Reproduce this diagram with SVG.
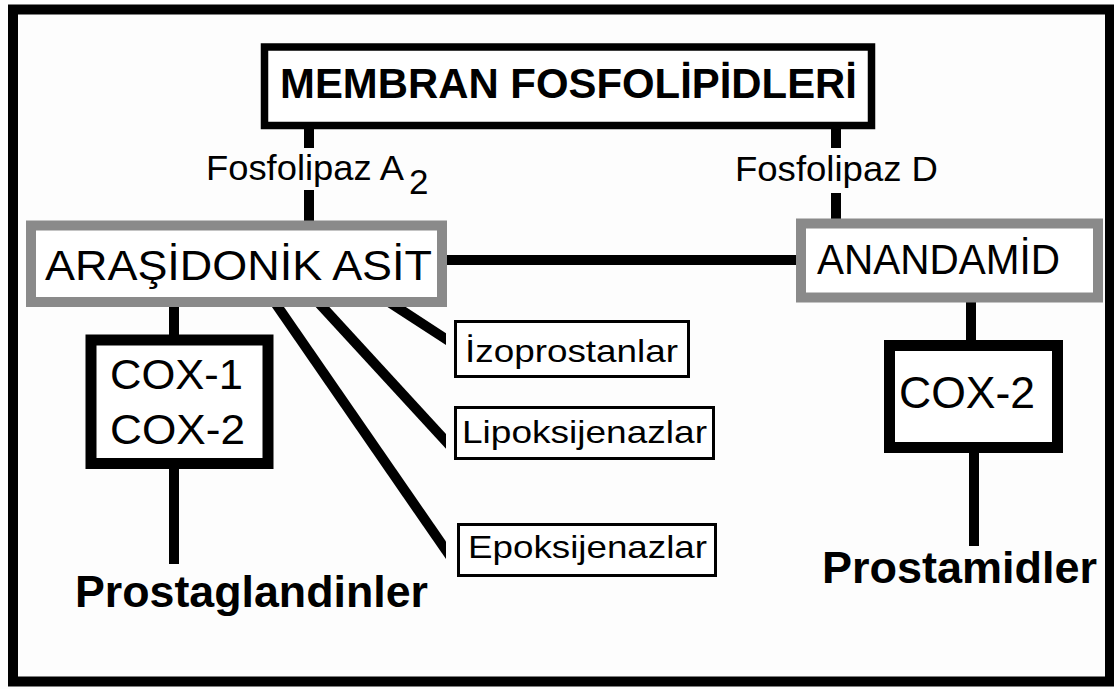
<svg xmlns="http://www.w3.org/2000/svg" width="1114" height="689" viewBox="0 0 1114 689">
<style>
.t{font-family:"Liberation Sans",Arial,sans-serif;fill:#000}
.b{font-weight:bold}
.blk{fill:#fff;stroke:#000}
.gry{fill:#fff;stroke:#8a8a8a;stroke-width:10}
.c{stroke:#000;stroke-width:10;fill:none}
</style>
<defs>
<clipPath id="clipd"><rect x="0" y="300" width="446" height="300"/></clipPath>
</defs>
<rect x="0" y="0" width="1114" height="689" fill="#fdfdfd"/>
<rect id="frame" x="13" y="9.5" width="1097" height="672" fill="none" stroke="#000" stroke-width="10"/>
<g id="connectors">
<line class="c" x1="309" y1="129" x2="309" y2="148"/>
<line class="c" x1="309" y1="190" x2="309" y2="225"/>
<line class="c" x1="836" y1="129" x2="836" y2="148"/>
<line class="c" x1="836" y1="193" x2="836" y2="223"/>
<line class="c" x1="442" y1="260" x2="801" y2="260"/>
<line class="c" x1="174" y1="302" x2="174" y2="340"/>
<line class="c" x1="174" y1="463" x2="174" y2="564"/>
<line class="c" x1="971" y1="298" x2="971" y2="345"/>
<line class="c" x1="974" y1="447" x2="974" y2="546"/>
<g clip-path="url(#clipd)">
<line class="c" stroke-width="9" x1="389" y1="302" x2="452" y2="343"/>
<line class="c" stroke-width="9" x1="318" y1="302" x2="452" y2="448"/>
<line class="c" stroke-width="9" x1="274.5" y1="302" x2="452" y2="559"/>
</g>
</g>
<g id="membran">
<rect class="blk" x="264.5" y="47" width="607" height="78.5" stroke-width="7.5"/>
<text class="t b" x="280" y="98" font-size="43" textLength="577" lengthAdjust="spacingAndGlyphs">MEMBRAN FOSFOLİPİDLERİ</text>
</g>
<g id="pla2">
<text class="t" x="206" y="180" font-size="35" textLength="198" lengthAdjust="spacingAndGlyphs">Fosfolipaz A</text>
<text class="t" x="409" y="194" font-size="35">2</text>
</g>
<g id="pld">
<text class="t" x="735" y="181" font-size="35" textLength="203" lengthAdjust="spacingAndGlyphs">Fosfolipaz D</text>
</g>
<g id="arasidonik">
<rect class="gry" x="31" y="225.5" width="411" height="76.5"/>
<text class="t" x="45" y="280" font-size="43" textLength="387" lengthAdjust="spacingAndGlyphs">ARAŞİDONİK ASİT</text>
</g>
<g id="anandamid">
<rect class="gry" x="801" y="223.5" width="297" height="74"/>
<text class="t" x="817" y="274" font-size="43" textLength="243" lengthAdjust="spacingAndGlyphs">ANANDAMİD</text>
</g>
<g id="cox12">
<rect class="blk" x="91" y="340" width="177" height="123.5" stroke-width="11"/>
<text class="t" x="110" y="389" font-size="43" textLength="133" lengthAdjust="spacingAndGlyphs">COX-1</text>
<text class="t" x="110" y="444" font-size="43" textLength="135" lengthAdjust="spacingAndGlyphs">COX-2</text>
</g>
<g id="cox2">
<rect class="blk" x="889.5" y="345.5" width="168" height="102" stroke-width="11"/>
<text class="t" x="899" y="408" font-size="44" textLength="136" lengthAdjust="spacingAndGlyphs">COX-2</text>
</g>
<g id="izoprostanlar">
<rect class="blk" x="455.5" y="321.5" width="233" height="55" stroke-width="3"/>
<text class="t" x="465" y="362" font-size="32" textLength="213" lengthAdjust="spacingAndGlyphs">İzoprostanlar</text>
</g>
<g id="lipoksijenazlar">
<rect class="blk" x="455.5" y="407.5" width="258" height="51" stroke-width="3"/>
<text class="t" x="462" y="443" font-size="32" textLength="245" lengthAdjust="spacingAndGlyphs">Lipoksijenazlar</text>
</g>
<g id="epoksijenazlar">
<rect class="blk" x="458.5" y="524.5" width="257" height="51" stroke-width="3"/>
<text class="t" x="468" y="558" font-size="32" textLength="239" lengthAdjust="spacingAndGlyphs">Epoksijenazlar</text>
</g>
<g id="prostaglandinler">
<text class="t b" x="75" y="607" font-size="45" textLength="353" lengthAdjust="spacingAndGlyphs">Prostaglandinler</text>
</g>
<g id="prostamidler">
<text class="t b" x="822" y="583" font-size="45" textLength="275" lengthAdjust="spacingAndGlyphs">Prostamidler</text>
</g>
</svg>
